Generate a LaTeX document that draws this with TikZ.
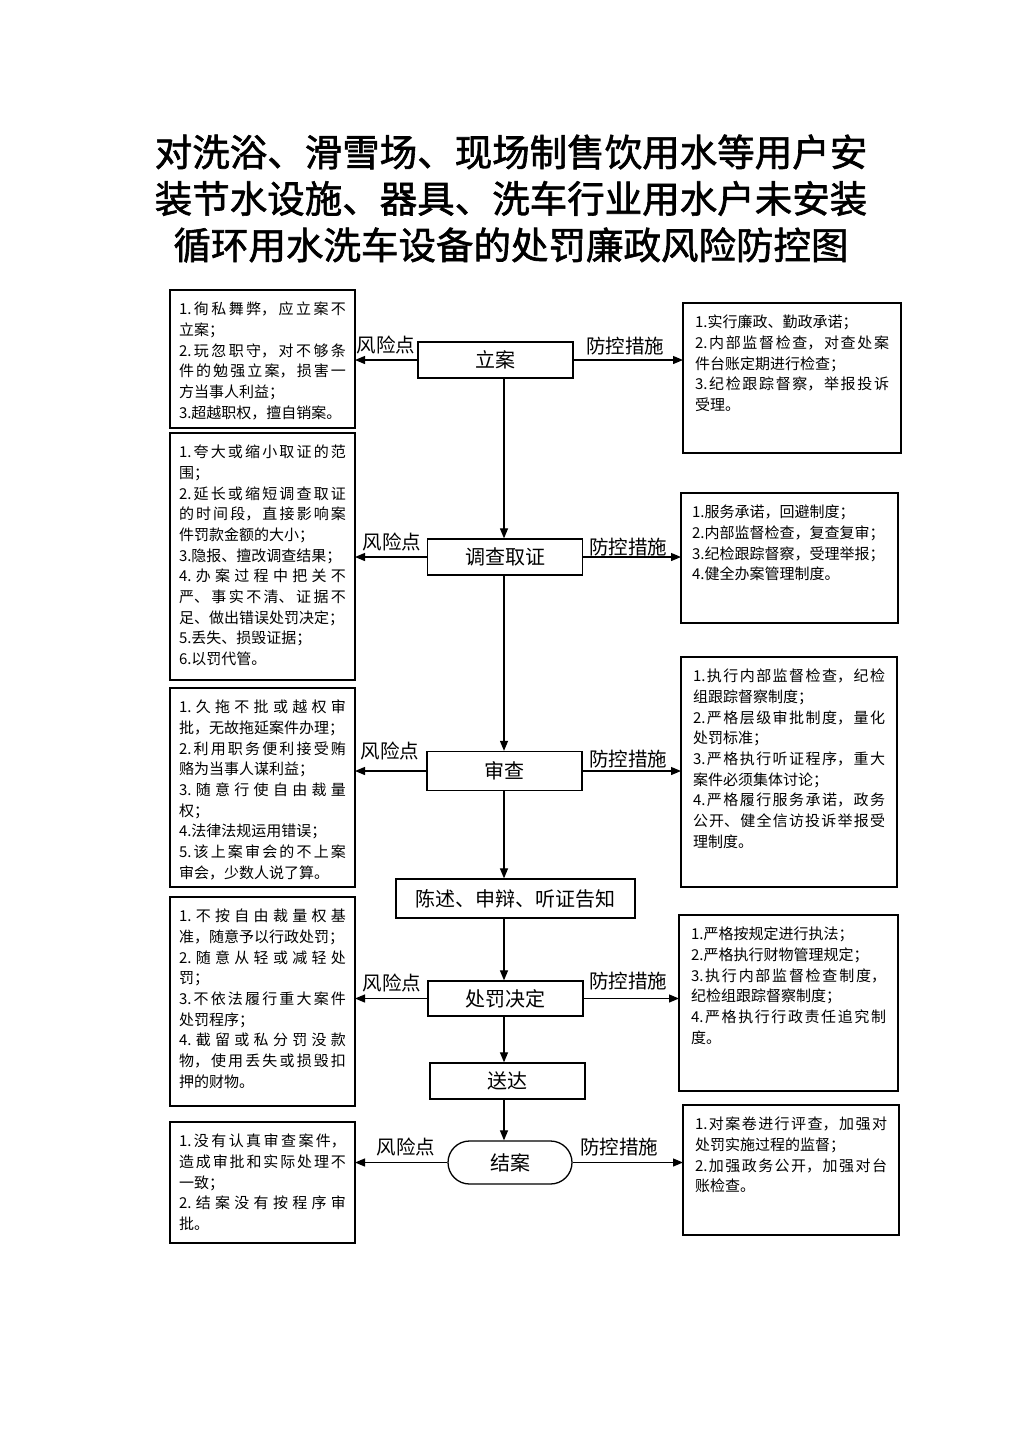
\documentclass[tikz,border=0pt]{standalone}
\usepackage{fontspec}
\setmainfont{Noto Sans CJK SC}
\newfontfamily\titlefont[FakeBold=1.6]{Noto Sans CJK SC}
\usetikzlibrary{arrows.meta}
\XeTeXlinebreaklocale "zh"
\XeTeXlinebreakskip=0pt plus 2pt
\newcommand{\boxtext}[3]{\parbox[c][#2pt][t]{#1pt}{\fontsize{15}{20.7}\selectfont\tolerance=10000\hbadness=10000\relax #3}}
\tikzset{
 frame/.style={draw, line width=1.3pt, anchor=north west, inner xsep=9pt, inner ysep=12pt, outer sep=0pt},
 rframe/.style={frame, inner xsep=12pt},
 stepbox/.style={draw, line width=1.3pt, font=\fontsize{20}{24}\selectfont, inner sep=0pt, minimum width=155pt, minimum height=36pt},
 tag/.style={font=\fontsize{19.5}{23}\selectfont, inner sep=0pt},
 arr/.style={line width=1.2pt, -{Triangle[length=10pt,width=8pt]}},
}
\begin{document}
\begin{tikzpicture}[x=1pt,y=-1pt]
\fill[white] (0,0) rectangle (1024,1449);
\useasboundingbox (0,0) rectangle (1024,1449);

\node[font=\titlefont\fontsize{37.5}{46.5}\selectfont, align=center, inner sep=0pt] (title) at (511,198.5)
 {对洗浴、滑雪场、现场制售饮用水等用户安\\装节水设施、器具、洗车行业用水户未安装\\循环用水洗车设备的处罚廉政风险防控图};

% left boxes
\node[frame] (L1) at (170,290) {\boxtext{167}{114}{1.徇私舞弊，应立案不\linebreak 立案；\par 2.玩忽职守，对不够条\linebreak 件的勉强立案，损害一\linebreak 方当事人利益；\par 3.超越职权，擅自销案。}};
\node[frame] (L2) at (170,433) {\boxtext{167}{223}{1.夸大或缩小取证的范\linebreak 围；\par 2.延长或缩短调查取证\linebreak 的时间段，直接影响案\linebreak 件罚款金额的大小；\par 3.隐报、擅改调查结果；\par 4.办案过程中把关不\linebreak 严、事实不清、证据不\linebreak 足、做出错误处罚决定；\par 5.丢失、损毁证据；\par 6.以罚代管。}};
\node[frame] (L3) at (170,688) {\boxtext{167}{175}{1.久拖不批或越权审\linebreak 批，无故拖延案件办理；\par 2.利用职务便利接受贿\linebreak 赂为当事人谋利益；\par 3.随意行使自由裁量\linebreak 权；\par 4.法律法规运用错误；\par 5.该上案审会的不上案\linebreak 审会，少数人说了算。}};
\node[frame] (L4) at (170,897) {\boxtext{167}{185}{1.不按自由裁量权基\linebreak 准，随意予以行政处罚；\par 2.随意从轻或减轻处\linebreak 罚；\par 3.不依法履行重大案件\linebreak 处罚程序；\par 4.截留或私分罚没款\linebreak 物，使用丢失或损毁扣\linebreak 押的财物。}};
\node[frame] (L5) at (170,1122) {\boxtext{167}{97}{1.没有认真审查案件，\linebreak 造成审批和实际处理不\linebreak 一致；\par 2.结案没有按程序审\linebreak 批。}};

% right boxes
\node[rframe] (R1) at (683,303) {\boxtext{194}{126}{1.实行廉政、勤政承诺；\par 2.内部监督检查，对查处案\linebreak 件台账定期进行检查；\par 3.纪检跟踪督察，举报投诉\linebreak 受理。}};
\node[rframe, inner xsep=11pt] (R2) at (681,493) {\boxtext{195}{106}{1.服务承诺，回避制度；\par 2.内部监督检查，复查复审；\par 3.纪检跟踪督察，受理举报；\par 4.健全办案管理制度。}};
\node[rframe] (R3) at (681,657) {\boxtext{192}{206}{1.执行内部监督检查，纪检\linebreak 组跟踪督察制度；\par 2.严格层级审批制度，量化\linebreak 处罚标准；\par 3.严格执行听证程序，重大\linebreak 案件必须集体讨论；\par 4.严格履行服务承诺，政务\linebreak 公开、健全信访投诉举报受\linebreak 理制度。}};
\node[rframe] (R4) at (679,915) {\boxtext{195}{152}{1.严格按规定进行执法；\par 2.严格执行财物管理规定；\par 3.执行内部监督检查制度，\linebreak 纪检组跟踪督察制度；\par 4.严格执行行政责任追究制\linebreak 度。}};
\node[rframe] (R5) at (683,1105) {\boxtext{192}{106}{1.对案卷进行评查，加强对\linebreak 处罚实施过程的监督；\par 2.加强政务公开，加强对台\linebreak 账检查。}};

% center steps
\node[stepbox] (s1) at (495.5,360) {立案};
\node[stepbox] (s2) at (505,557) {调查取证};
\node[stepbox, minimum height=39pt] (s3) at (504.5,771) {审查};
\node[stepbox, minimum width=239pt, minimum height=39pt] (s4) at (515.5,898.5) {陈述、申辩、听证告知};
\node[stepbox, minimum height=35pt] (s5) at (505.5,998.5) {处罚决定};
\node[stepbox] (s6) at (507.5,1081) {送达};
\node[stepbox, minimum width=124pt, minimum height=43pt, rounded corners=21.5pt] (s7) at (510,1162.5) {结案};

\coordinate (spine) at (504,0);
\draw[arr] (s1.south -| spine) -- (s2.north -| spine);
\draw[arr] (s2.south -| spine) -- (s3.north -| spine);
\draw[arr] (s3.south -| spine) -- (s4.north -| spine);
\draw[arr] (s4.south -| spine) -- (s5.north -| spine);
\draw[arr] (s5.south -| spine) -- (s6.north -| spine);
\draw[arr] (s6.south -| spine) -- (s7.north -| spine);

\draw[arr] (s1.west) -- (s1.west -| L1.east);
\draw[arr] (s1.east) -- (s1.east -| R1.west);
\draw[arr] (s2.west) -- (s2.west -| L2.east);
\draw[arr] (s2.east) -- (s2.east -| R2.west);
\draw[arr] (s3.west) -- (s3.west -| L3.east);
\draw[arr] (s3.east) -- (s3.east -| R3.west);
\draw[arr] (s5.west) -- (s5.west -| L4.east);
\draw[arr] (s5.east) -- (s5.east -| R4.west);
\draw[arr] (s7.west) -- (s7.west -| L5.east);
\draw[arr] (s7.east) -- (s7.east -| R5.west);

\node[tag] (k1) at (386,345) {风险点};
\node[tag] (m1) at (625,346) {防控措施};
\node[tag] (k2) at (392,542) {风险点};
\node[tag] (m2) at (628,547) {防控措施};
\node[tag] (k3) at (390,751) {风险点};
\node[tag] (m3) at (628,759) {防控措施};
\node[tag] (k4) at (392,983) {风险点};
\node[tag] (m4) at (628,981) {防控措施};
\node[tag] (k5) at (406,1147) {风险点};
\node[tag] (m5) at (619,1147) {防控措施};
\end{tikzpicture}
\end{document}
